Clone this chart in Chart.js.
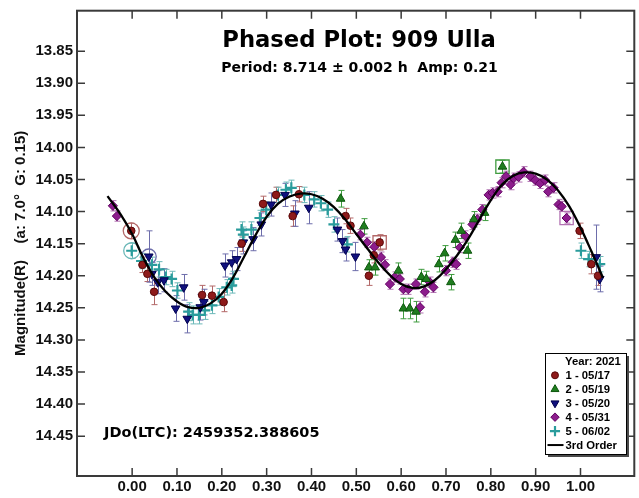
<!DOCTYPE html>
<html lang="en">
<head>
<meta charset="UTF-8">
<title>Phased Plot: 909 Ulla</title>
<script src="https://cdn.jsdelivr.net/npm/chart.js"></script>
<style>
    html, body { margin: 0; padding: 0; background: #fff; overflow: hidden; }
    #wrap { width: 639px; height: 498px; overflow: hidden; }
</style>
</head>
<body>
<div id="wrap"><canvas id="lc" width="645" height="498"></canvas></div>
<script>
// axis ticks
const xTicks = [0, 0.1, 0.2, 0.3, 0.4, 0.5, 0.6, 0.7, 0.8, 0.9, 1.0];
const xTickLabels = ['0.00', '0.10', '0.20', '0.30', '0.40', '0.50', '0.60', '0.70', '0.80', '0.90', '1.00'];
const yTicks = [13.85, 13.90, 13.95, 14.00, 14.05, 14.10, 14.15, 14.20, 14.25, 14.30, 14.35, 14.40, 14.45];
const yTickLabels = ['13.85', '13.90', '13.95', '14.00', '14.05', '14.10', '14.15', '14.20', '14.25', '14.30', '14.35', '14.40', '14.45'];

// 1 - 05/17
const s1Phase = [-0.002, 0.023, 0.034, 0.049, 0.156, 0.178, 0.204, 0.244, 0.292, 0.321, 0.358, 0.372, 0.476, 0.487, 0.528, 0.539, 0.552, 0.998, 1.024, 1.039];
const s1Mag   = [14.130, 14.183, 14.197, 14.225, 14.230, 14.231, 14.241, 14.150, 14.088, 14.074, 14.107, 14.073, 14.107, 14.122, 14.200, 14.168, 14.148, 14.130, 14.182, 14.200];
const s1Err   = [0.012, 0.012, 0.012, 0.020, 0.015, 0.015, 0.015, 0.012, 0.012, 0.012, 0.016, 0.012, 0.012, 0.012, 0.015, 0.012, 0.012, 0.012, 0.015, 0.015];

// 2 - 05/19
const s2Phase = [0.465, 0.517, 0.528, 0.542, 0.594, 0.605, 0.619, 0.633, 0.645, 0.656, 0.684, 0.697, 0.711, 0.721, 0.734, 0.748, 0.762, 0.786, 0.826];
const s2Mag   = [14.080, 14.123, 14.187, 14.187, 14.192, 14.251, 14.251, 14.256, 14.202, 14.205, 14.182, 14.165, 14.210, 14.144, 14.130, 14.161, 14.112, 14.102, 14.030];
const s2Err   = [0.013, 0.012, 0.012, 0.012, 0.012, 0.016, 0.016, 0.016, 0.012, 0.012, 0.012, 0.012, 0.012, 0.012, 0.012, 0.012, 0.012, 0.012, 0.010];

// 3 - 05/20
const s3Phase = [0.037, 0.044, 0.057, 0.071, 0.097, 0.115, 0.123, 0.152, 0.160, 0.207, 0.222, 0.233, 0.248, 0.270, 0.288, 0.310, 0.341, 0.363, 0.394, 0.458, 0.469, 0.476, 0.498, 1.035, 1.043];
const s3Mag   = [14.170, 14.197, 14.210, 14.207, 14.251, 14.218, 14.267, 14.249, 14.241, 14.184, 14.179, 14.174, 14.148, 14.143, 14.120, 14.089, 14.074, 14.103, 14.094, 14.128, 14.146, 14.159, 14.170, 14.171, 14.205];
const s3Err   = [0.040, 0.018, 0.018, 0.018, 0.020, 0.020, 0.022, 0.020, 0.020, 0.018, 0.018, 0.018, 0.018, 0.018, 0.018, 0.018, 0.018, 0.020, 0.025, 0.018, 0.018, 0.018, 0.022, 0.050, 0.020];

// 4 - 05/31
const s4Phase = [-0.043, -0.034, 0.509, 0.524, 0.540, 0.555, 0.564, 0.575, 0.586, 0.597, 0.605, 0.616, 0.633, 0.642, 0.653, 0.664, 0.672, 0.700, 0.715, 0.723, 0.731, 0.743, 0.759, 0.770, 0.781, 0.795, 0.804, 0.815, 0.824, 0.834, 0.844, 0.851, 0.862, 0.873, 0.888, 0.899, 0.910, 0.921, 0.928, 0.940, 0.951, 0.958, 0.969];
const s4Mag   = [14.091, 14.107, 14.136, 14.148, 14.155, 14.171, 14.183, 14.213, 14.202, 14.205, 14.221, 14.221, 14.213, 14.249, 14.225, 14.210, 14.218, 14.192, 14.179, 14.182, 14.156, 14.138, 14.120, 14.112, 14.097, 14.074, 14.071, 14.069, 14.055, 14.045, 14.058, 14.048, 14.046, 14.038, 14.045, 14.051, 14.056, 14.051, 14.069, 14.063, 14.089, 14.092, 14.110];
const s4Err   = [0.008, 0.008, 0.008, 0.008, 0.008, 0.008, 0.008, 0.008, 0.008, 0.008, 0.008, 0.008, 0.008, 0.009, 0.008, 0.008, 0.008, 0.008, 0.008, 0.008, 0.008, 0.008, 0.008, 0.008, 0.008, 0.008, 0.008, 0.008, 0.008, 0.008, 0.008, 0.008, 0.008, 0.008, 0.008, 0.008, 0.008, 0.008, 0.008, 0.008, 0.008, 0.008, 0.008];

// 5 - 06/02
const s5Phase = [-0.001, 0.021, 0.044, 0.060, 0.075, 0.088, 0.101, 0.126, 0.135, 0.149, 0.162, 0.178, 0.193, 0.211, 0.222, 0.226, 0.244, 0.248, 0.266, 0.285, 0.299, 0.325, 0.343, 0.355, 0.384, 0.406, 0.421, 0.436, 0.450, 0.480, 1.001, 1.018, 1.043];
const s5Mag   = [14.161, 14.177, 14.183, 14.190, 14.202, 14.205, 14.223, 14.256, 14.261, 14.261, 14.254, 14.246, 14.233, 14.218, 14.215, 14.205, 14.128, 14.136, 14.128, 14.110, 14.097, 14.074, 14.066, 14.063, 14.074, 14.081, 14.087, 14.097, 14.120, 14.151, 14.161, 14.174, 14.182];
const s5Err   = [0.012, 0.012, 0.012, 0.012, 0.012, 0.012, 0.012, 0.014, 0.014, 0.014, 0.014, 0.013, 0.013, 0.012, 0.012, 0.012, 0.012, 0.012, 0.012, 0.012, 0.012, 0.012, 0.012, 0.012, 0.012, 0.012, 0.012, 0.012, 0.012, 0.012, 0.012, 0.012, 0.012];

// highlighted points (series number, phase, mag)
const markSeries = [1, 5, 3, 1, 2, 4];
const markPhase  = [-0.002, -0.001, 0.037, 0.552, 0.826, 0.969];
const markMag    = [14.130, 14.161, 14.170, 14.148, 14.030, 14.110];

// 3rd order fit
const fitPhase = [-0.055, -0.025, 0.000, 0.025, 0.050, 0.075, 0.100, 0.125, 0.150, 0.175, 0.200, 0.225, 0.250, 0.275, 0.300, 0.325, 0.350, 0.375, 0.400, 0.425, 0.450, 0.475, 0.500, 0.525, 0.550, 0.575, 0.600, 0.625, 0.650, 0.675, 0.700, 0.725, 0.750, 0.775, 0.800, 0.825, 0.850, 0.875, 0.900, 0.925, 0.950, 0.975, 1.000, 1.025, 1.050];
const fitMag   = [14.076, 14.105, 14.135, 14.172, 14.203, 14.225, 14.240, 14.249, 14.250, 14.243, 14.228, 14.203, 14.170, 14.137, 14.108, 14.088, 14.077, 14.072, 14.073, 14.080, 14.093, 14.112, 14.135, 14.158, 14.180, 14.199, 14.213, 14.219, 14.217, 14.207, 14.190, 14.168, 14.142, 14.112, 14.082, 14.058, 14.044, 14.039, 14.041, 14.050, 14.067, 14.092, 14.125, 14.163, 14.203];

const titleText = 'Phased Plot: 909 Ulla';
const subText = 'Period: 8.714 ± 0.002 h  Amp: 0.21';
const epochText = 'JDo(LTC): 2459352.388605';
const legendTitle = 'Year: 2021';
const fitLabel = '3rd Order';

Chart.defaults.font.family = "'Liberation Sans', Arial, sans-serif";
Chart.defaults.color = '#111';

const series = [
    { label: '1 - 05/17', phase: s1Phase, mag: s1Mag, err: s1Err, fill: '#8e1a1a', line: '#5a0808', bar: '#b36868', style: 'circle', radius: 3.8, rotation: 0, bw: 1 },
    { label: '2 - 05/19', phase: s2Phase, mag: s2Mag, err: s2Err, fill: '#1f7d1f', line: '#0c560c', bar: '#3f9c3f', style: 'triangle', radius: 5, rotation: 0, bw: 1 },
    { label: '3 - 05/20', phase: s3Phase, mag: s3Mag, err: s3Err, fill: '#11117e', line: '#00004e', bar: '#6d6dab', style: 'triangle', radius: 5, rotation: 180, bw: 1 },
    { label: '4 - 05/31', phase: s4Phase, mag: s4Mag, err: s4Err, fill: '#8c1c8c', line: '#620062', bar: '#b272b2', style: 'rectRot', radius: 4.6, rotation: 0, bw: 1 },
    { label: '5 - 06/02', phase: s5Phase, mag: s5Mag, err: s5Err, fill: '#2a9c9c', line: '#2a9c9c', bar: '#6cb8b8', style: 'cross', radius: 5.5, rotation: 0, bw: 2.2 },
];
const markStyle = ['circle', 'circle', 'circle', 'rect', 'rect', 'rect'];
const markRadius = [8, 8, 7.5, 9.4, 9.4, 9.4];

const toXY = (ph, mg) => ph.map((p, i) => ({ x: p, y: mg[i] }));

const datasets = [{
    type: 'line',
    label: fitLabel,
    data: toXY(fitPhase, fitMag),
    borderColor: '#000',
    borderWidth: 2.3,
    pointRadius: 0,
    tension: 0.4,
    order: 0,
}];
series.forEach(s => datasets.push({
    type: 'scatter',
    label: s.label,
    data: toXY(s.phase, s.mag),
    pointStyle: s.style,
    pointRadius: s.radius,
    pointRotation: s.rotation,
    backgroundColor: s.fill,
    borderColor: s.line,
    borderWidth: s.bw,
    order: 1,
}));
datasets.push({
    type: 'scatter',
    label: 'marks',
    data: toXY(markPhase, markMag),
    pointStyle: markStyle,
    pointRadius: markRadius,
    backgroundColor: 'rgba(0,0,0,0)',
    borderColor: markSeries.map(n => series[n - 1].bar),
    borderWidth: 1.3,
    order: 2,
});

const errorBars = {
    id: 'errorBars',
    beforeDatasetsDraw(chart) {
        const { ctx, chartArea, scales: { x, y } } = chart;
        ctx.save();
        ctx.beginPath();
        ctx.rect(chartArea.left, chartArea.top, chartArea.right - chartArea.left, chartArea.bottom - chartArea.top);
        ctx.clip();
        ctx.lineWidth = 1;
        series.forEach(s => {
            ctx.strokeStyle = s.bar;
            s.phase.forEach((p, i) => {
                const px = Math.round(x.getPixelForValue(p)) + 0.5;
                const y1 = y.getPixelForValue(s.mag[i] - s.err[i]);
                const y2 = y.getPixelForValue(s.mag[i] + s.err[i]);
                ctx.beginPath();
                ctx.moveTo(px, y1); ctx.lineTo(px, y2);
                ctx.moveTo(px - 3, y1); ctx.lineTo(px + 3, y1);
                ctx.moveTo(px - 3, y2); ctx.lineTo(px + 3, y2);
                ctx.stroke();
            });
        });
        ctx.restore();
    }
};

const frame = {
    id: 'frame',
    afterDraw(chart) {
        const { ctx, chartArea: a, scales: { x, y } } = chart;
        ctx.save();
        // ticks on all four sides, pointing in
        ctx.strokeStyle = '#3a3a3a';
        ctx.lineWidth = 1.5;
        ctx.beginPath();
        xTicks.forEach(v => {
            const px = x.getPixelForValue(v);
            ctx.moveTo(px, a.bottom); ctx.lineTo(px, a.bottom - 8);
            ctx.moveTo(px, a.top); ctx.lineTo(px, a.top + 8);
        });
        yTicks.forEach(v => {
            const py = y.getPixelForValue(v);
            ctx.moveTo(a.left, py); ctx.lineTo(a.left + 8, py);
            ctx.moveTo(a.right, py); ctx.lineTo(a.right - 8, py);
        });
        ctx.stroke();
        ctx.lineWidth = 2;
        ctx.strokeRect(a.left, a.top, a.right - a.left, a.bottom - a.top);

        // titles
        ctx.fillStyle = '#000';
        ctx.textAlign = 'center';
        ctx.textBaseline = 'alphabetic';
        ctx.font = "bold 22.7px 'DejaVu Sans'";
        ctx.fillText(titleText, 359, 46.5);
        ctx.font = "bold 14px 'DejaVu Sans'";
        ctx.fillText(subText, 359.5, 71.5);
        ctx.textAlign = 'left';
        ctx.font = "bold 14.5px 'DejaVu Sans'";
        ctx.fillText(epochText, 104, 436.5);

        // legend box
        const bx = 545, by = 353, bw = 81, bh = 101;
        ctx.fillStyle = '#4a4a4a';
        ctx.fillRect(bx + 3, by + 3, bw, bh);
        ctx.fillStyle = '#fff';
        ctx.fillRect(bx, by, bw, bh);
        ctx.strokeStyle = '#000';
        ctx.lineWidth = 1;
        ctx.strokeRect(bx + 0.5, by + 0.5, bw, bh);

        ctx.font = "bold 11.3px 'Liberation Sans'";
        ctx.fillStyle = '#000';
        ctx.fillText(legendTitle, 565, 365);
        const draw = Chart.helpers && Chart.helpers.drawPoint;
        series.forEach((s, i) => {
            const base = 379.3 + i * 13.95;
            ctx.fillStyle = s.fill;
            ctx.strokeStyle = s.line;
            ctx.lineWidth = s.bw;
            if (draw) {
                draw(ctx, { pointStyle: s.style, radius: s.radius * 0.92, rotation: s.rotation, borderWidth: s.bw }, 555, base - 4);
            }
            ctx.fillStyle = '#000';
            ctx.fillText(s.label, 565.5, base);
        });
        const fb = 379.3 + 5 * 13.95;
        ctx.strokeStyle = '#000';
        ctx.lineWidth = 2;
        ctx.beginPath();
        ctx.moveTo(547.5, fb - 4); ctx.lineTo(563.5, fb - 4);
        ctx.stroke();
        ctx.fillText(fitLabel, 565.5, fb);
        ctx.restore();
    }
};

new Chart(document.getElementById('lc'), {
    type: 'scatter',
    data: { datasets },
    options: {
        responsive: false,
        animation: false,
        devicePixelRatio: 1,
        layout: { padding: { left: 0, top: 6, right: 5, bottom: 0 } },
        plugins: { legend: { display: false }, tooltip: { enabled: false } },
        scales: {
            x: {
                type: 'linear',
                min: -0.123,
                max: 1.120,
                grid: { display: false, drawTicks: false },
                border: { display: false },
                afterBuildTicks: sc => { sc.ticks = xTicks.map(v => ({ value: v })); },
                afterFit: sc => { sc.height = 22; sc.paddingLeft = 0; sc.paddingRight = 0; },
                ticks: {
                    padding: 2,
                    font: { size: 15, weight: 'bold' },
                    color: '#111',
                    maxRotation: 0,
                    callback: (v) => xTickLabels[xTicks.findIndex(t => Math.abs(t - v) < 1e-6)],
                },
            },
            y: {
                type: 'linear',
                reverse: true,
                min: 13.787,
                max: 14.512,
                grid: { display: false, drawTicks: false },
                border: { display: false },
                afterBuildTicks: sc => { sc.ticks = yTicks.map(v => ({ value: v })); },
                afterFit: sc => { sc.width = 77; sc.paddingTop = 0; sc.paddingBottom = 0; },
                ticks: {
                    padding: 4,
                    font: { size: 15, weight: 'bold' },
                    color: '#111',
                    callback: (v) => yTickLabels[yTicks.findIndex(t => Math.abs(t - v) < 1e-6)],
                },
                title: {
                    display: true,
                    text: 'Magnitude(R)    (a: 7.0°  G: 0.15)',
                    font: { size: 15, weight: 'bold' },
                    color: '#111',
                    padding: { top: 12, bottom: 0 },
                },
            },
        },
    },
    plugins: [errorBars, frame],
});
</script>
</body>
</html>
